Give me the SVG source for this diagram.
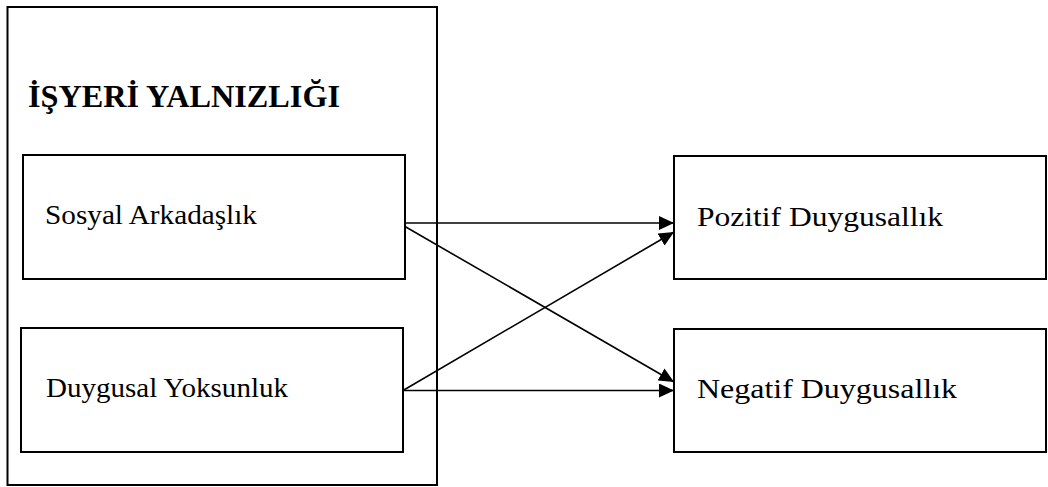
<svg xmlns="http://www.w3.org/2000/svg" width="1048" height="487" viewBox="0 0 1048 487">
<style>
.box{fill:#fff;stroke:#000;stroke-width:2}
.lbl{font-family:"Liberation Serif","Times New Roman",serif;fill:#000}
.ttl{font-family:"Liberation Serif","Times New Roman",serif;font-weight:bold;fill:#000}
.con{stroke:#000;stroke-width:1.6;fill:none;marker-end:url(#ah)}
</style>
<defs>
<marker id="ah" markerUnits="userSpaceOnUse" markerWidth="16" markerHeight="14" refX="15" refY="7" orient="auto">
<path d="M0,0 L15,7 L0,14 Z" fill="#000"/>
</marker>
</defs>
<rect width="1048" height="487" fill="#fff"/>
<g id="outer">
<rect class="box" x="7.5" y="7" width="429.5" height="478"/>
<text class="ttl" x="28" y="106.5" font-size="31" textLength="312" lengthAdjust="spacingAndGlyphs">İŞYERİ YALNIZLIĞI</text>
</g>
<g id="sosyal">
<rect class="box" x="23" y="155" width="382" height="124"/>
<text class="lbl" x="45" y="223.5" font-size="27" textLength="212" lengthAdjust="spacingAndGlyphs">Sosyal Arkadaşlık</text>
</g>
<g id="duygusal">
<rect class="box" x="21" y="328" width="382" height="124"/>
<text class="lbl" x="46" y="397" font-size="27" textLength="242" lengthAdjust="spacingAndGlyphs">Duygusal Yoksunluk</text>
</g>
<g id="pozitif">
<rect class="box" x="674" y="156" width="372" height="123"/>
<text class="lbl" x="697" y="225.5" font-size="28" textLength="246" lengthAdjust="spacingAndGlyphs">Pozitif Duygusallık</text>
</g>
<g id="negatif">
<rect class="box" x="674" y="329" width="372" height="123"/>
<text class="lbl" x="697" y="397.5" font-size="28" textLength="260" lengthAdjust="spacingAndGlyphs">Negatif Duygusallık</text>
</g>
<g id="connectors">
<line class="con" x1="405" y1="223" x2="674" y2="223"/>
<line class="con" x1="405" y1="226.5" x2="674" y2="382"/>
<line class="con" x1="403" y1="390.5" x2="674" y2="232"/>
<line class="con" x1="403" y1="390.5" x2="674" y2="390.5"/>
</g>
</svg>
